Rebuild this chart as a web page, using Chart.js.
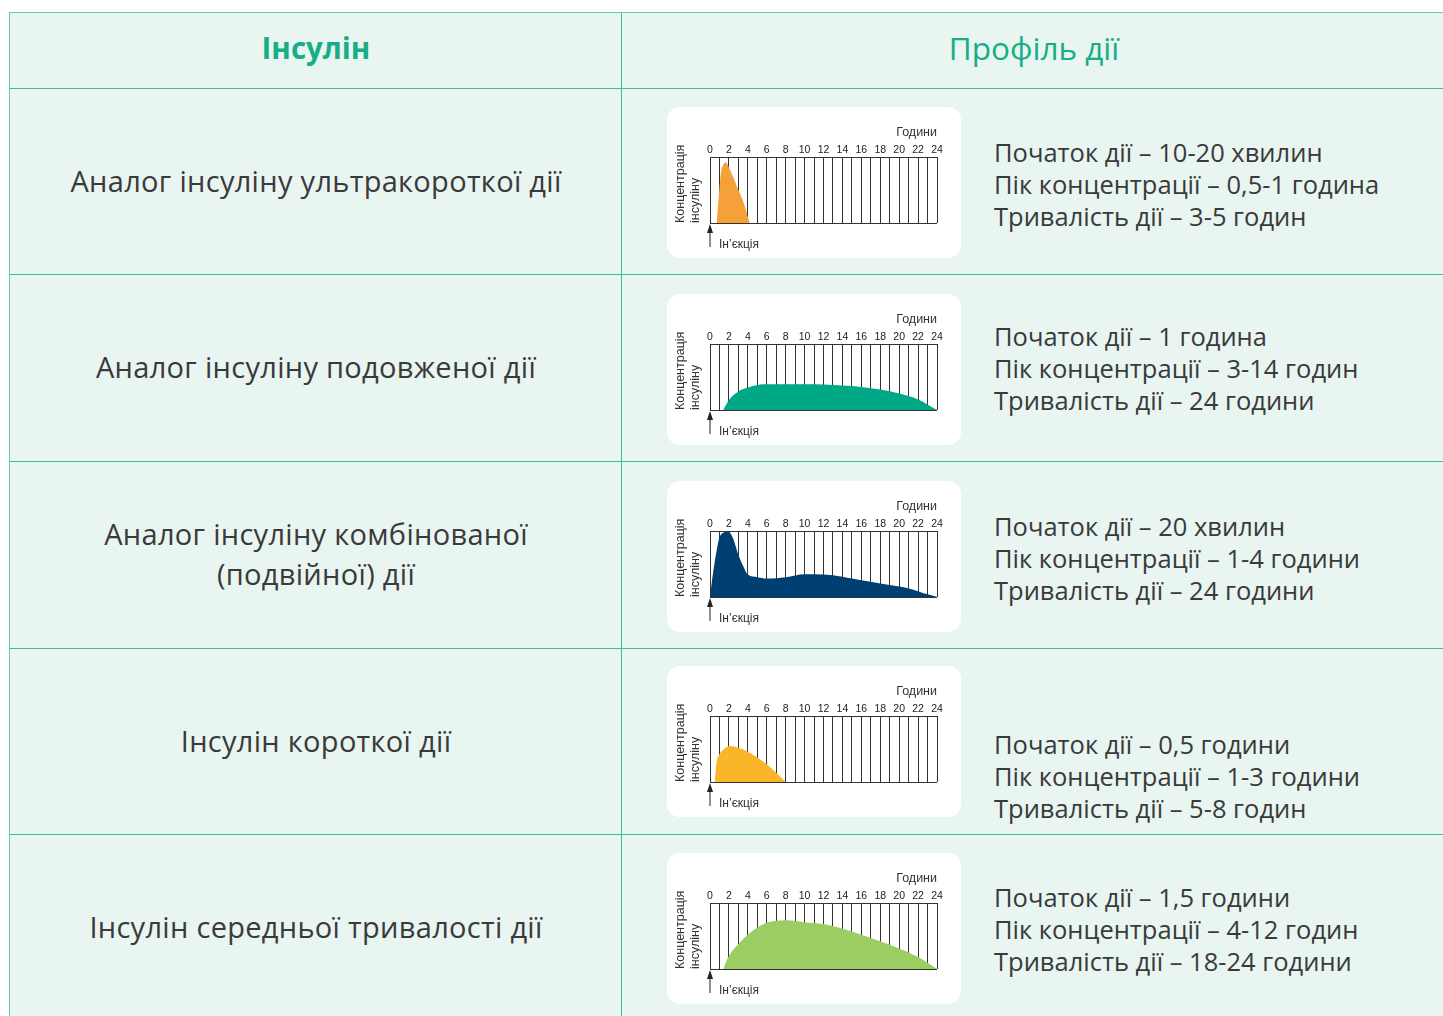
<!DOCTYPE html>
<html>
<head>
<meta charset="utf-8">
<script src="https://cdn.jsdelivr.net/npm/chart.js@4"></script>
<style>
  body { margin: 0; background: #fff; width: 1443px; height: 1016px; overflow: hidden; }
  #table { position: absolute; left: 9px; top: 12px; width: 1440px; height: 1020px; background: #e8f5f1;
    border-left: 1.5px solid #5fcbb0; border-top: 1.5px solid #5fcbb0; }
  .hline { position: absolute; left: 0; width: 1440px; height: 0; border-top: 1.5px solid #3dbd9b; }
  .vline { position: absolute; top: 0; height: 1020px; width: 0; border-left: 1px solid #3dbd9b; }
  .head { position: absolute; top: 0; height: 68px; display: flex; align-items: center; justify-content: center;
    font-family: "Open Sans", "Noto Sans", sans-serif; color: #17ad86; }
  .name { position: absolute; left: 0; width: 612px; display: flex; align-items: center; justify-content: center;
    text-align: center; font-family: "Open Sans", "Noto Sans", sans-serif; font-size: 29px;
    letter-spacing: 0.3px; color: #3a3a3a; line-height: 40px; }
  .desc { position: absolute; left: 984px; font-family: "Open Sans", "Noto Sans", sans-serif; font-size: 25.5px;
    color: #3a3a3a; line-height: 32px; white-space: pre; }
  .card { position: absolute; left: 657px; width: 294px; height: 151px; background: #fff; border-radius: 13px; }
</style>
</head>
<body>
<div id="table"></div>
<script>
// row texts
const insulinNames = [
  'Аналог інсуліну ультракороткої дії',
  'Аналог інсуліну подовженої дії',
  'Аналог інсуліну комбінованої<br>(подвійної) дії',
  'Інсулін короткої дії',
  'Інсулін середньої тривалості дії'
];
const actionProfiles = [
  ['Початок дії – 10-20 хвилин', 'Пік концентрації – 0,5-1 година', 'Тривалість дії – 3-5 годин'],
  ['Початок дії – 1 година', 'Пік концентрації – 3-14 годин', 'Тривалість дії – 24 години'],
  ['Початок дії – 20 хвилин', 'Пік концентрації – 1-4 години', 'Тривалість дії – 24 години'],
  ['Початок дії – 0,5 години', 'Пік концентрації – 1-3 години', 'Тривалість дії – 5-8 годин'],
  ['Початок дії – 1,5 години', 'Пік концентрації – 4-12 годин', 'Тривалість дії – 18-24 години']
];

// hour tick labels shown on top axis
const hourTicks = [0, 2, 4, 6, 8, 10, 12, 14, 16, 18, 20, 22, 24];

// concentration curves (hours after injection, relative level)
const ultraHours = [0.7, 0.9, 1.15, 1.4, 1.65, 2.1, 3, 3.5, 4.2];
const ultraLevel = [0, 0.35, 0.76, 0.88, 0.92, 0.81, 0.5, 0.33, 0];

const longHours = [1.4, 2, 3, 4, 5, 6, 8, 10, 12, 14, 16, 18, 20, 22, 24];
const longLevel = [0, 0.15, 0.28, 0.34, 0.38, 0.39, 0.39, 0.39, 0.385, 0.37, 0.35, 0.31, 0.25, 0.16, 0];

const mixHours = [0, 0.3, 0.7, 1, 1.5, 1.9, 2.4, 3, 3.5, 4, 5, 6, 8, 10, 11, 13, 15, 17, 19, 21, 23, 24];
const mixLevel = [0, 0.34, 0.7, 0.9, 0.98, 1.0, 0.9, 0.64, 0.47, 0.34, 0.3, 0.28, 0.3, 0.345, 0.345, 0.33, 0.28, 0.23, 0.18, 0.13, 0.04, 0];

const shortHours = [0.5, 0.7, 1, 1.5, 2.1, 3, 4, 5, 6, 7, 8];
const shortLevel = [0, 0.3, 0.42, 0.5, 0.545, 0.52, 0.46, 0.37, 0.27, 0.14, 0];

const midHours = [1.4, 2, 3, 4, 5, 6, 7, 8, 9, 10, 12, 14, 16, 18, 20, 22, 24];
const midLevel = [0, 0.2, 0.38, 0.52, 0.63, 0.7, 0.73, 0.74, 0.73, 0.71, 0.68, 0.61, 0.52, 0.42, 0.31, 0.18, 0];

const curves = [
  { hours: ultraHours, level: ultraLevel, color: '#f6a03a' },
  { hours: longHours, level: longLevel, color: '#00a886' },
  { hours: mixHours, level: mixLevel, color: '#003f72' },
  { hours: shortHours, level: shortLevel, color: '#fbb52b' },
  { hours: midHours, level: midLevel, color: '#9ccd63' }
];

const rowTops = [74.5, 260.5, 447.5, 634.5, 820.5];
const rowHeight = 186;
const cardTops = [93.5, 280.5, 467.5, 653, 839.5];
const descTops = [123, 307, 497, 715, 868];

const table = document.getElementById('table');
function add(html) { table.insertAdjacentHTML('beforeend', html); }

add('<div class="head" style="left:0;width:612px;font-weight:700;font-size:29.5px">Інсулін</div>');
add('<div class="head" style="left:612px;width:824px;font-size:31.5px">Профіль дії</div>');
add('<div class="vline" style="left:610.5px"></div>');
rowTops.forEach(t => add(`<div class="hline" style="top:${t}px"></div>`));

insulinNames.forEach((name, i) => {
  add(`<div class="name" style="top:${rowTops[i]}px;height:${rowHeight}px">${name}</div>`);
  add(`<div class="desc" style="top:${descTops[i]}px">${actionProfiles[i].join('\n')}</div>`);
  add(`<div class="card" style="top:${cardTops[i]}px"><canvas id="c${i}" width="294" height="151"></canvas></div>`);
});

const labelFont = '"Liberation Sans", Arial, sans-serif';

const injectionMarker = {
  id: 'injectionMarker',
  afterDraw(chart) {
    const { ctx, scales: { x, y } } = chart;
    const px = x.getPixelForValue(0);
    const base = y.getPixelForValue(0);
    ctx.save();
    ctx.strokeStyle = '#222';
    ctx.fillStyle = '#222';
    ctx.lineWidth = 1;
    ctx.beginPath();
    ctx.moveTo(px, base + 7);
    ctx.lineTo(px, base + 24);
    ctx.stroke();
    ctx.beginPath();
    ctx.moveTo(px, base + 1);
    ctx.lineTo(px - 3, base + 10);
    ctx.lineTo(px + 3, base + 10);
    ctx.closePath();
    ctx.fill();
    ctx.font = '12px ' + labelFont;
    ctx.fillStyle = '#333';
    ctx.textBaseline = 'middle';
    ctx.fillText('Ін’єкція', px + 9, base + 22);
    ctx.restore();
  }
};

curves.forEach((c, i) => {
  new Chart(document.getElementById('c' + i), {
    type: 'line',
    data: {
      datasets: [{
        data: c.hours.map((h, k) => ({ x: h, y: c.level[k] })),
        fill: 'origin',
        backgroundColor: c.color,
        borderWidth: 0,
        pointRadius: 0,
        cubicInterpolationMode: 'monotone'
      }]
    },
    options: {
      responsive: false,
      animation: false,
      layout: { padding: { top: 0, right: 24, bottom: 35, left: 0 } },
      plugins: { legend: { display: false }, tooltip: { enabled: false } },
      scales: {
        x: {
          type: 'linear',
          position: 'top',
          min: 0,
          max: 24,
          afterFit: s => { s.height = 50; },
          ticks: {
            stepSize: 1,
            autoSkip: false,
            maxRotation: 0,
            padding: 1,
            color: '#222',
            font: { family: labelFont, size: 10.5 },
            callback: v => (hourTicks.includes(v) ? String(v) : '')
          },
          grid: { color: '#333', lineWidth: 1, drawTicks: false },
          border: { color: '#333' },
          title: {
            display: true,
            text: 'Години',
            align: 'end',
            color: '#333',
            font: { family: labelFont, size: 12.5, lineHeight: 1.2 },
            padding: { top: 18.5, bottom: 0 }
          }
        },
        y: {
          min: 0,
          max: 1,
          afterFit: s => { s.width = 43; },
          ticks: { display: false, stepSize: 1 },
          grid: { color: '#333', lineWidth: 1, drawTicks: false },
          border: { color: '#333' },
          title: {
            display: true,
            text: ['Концентрація', 'інсуліну'],
            align: 'start',
            color: '#333',
            font: { family: labelFont, size: 12.5, lineHeight: 1.2 },
            padding: { top: 6.5, bottom: 0 }
          }
        }
      }
    },
    plugins: [injectionMarker]
  });
});
</script>
</body>
</html>
